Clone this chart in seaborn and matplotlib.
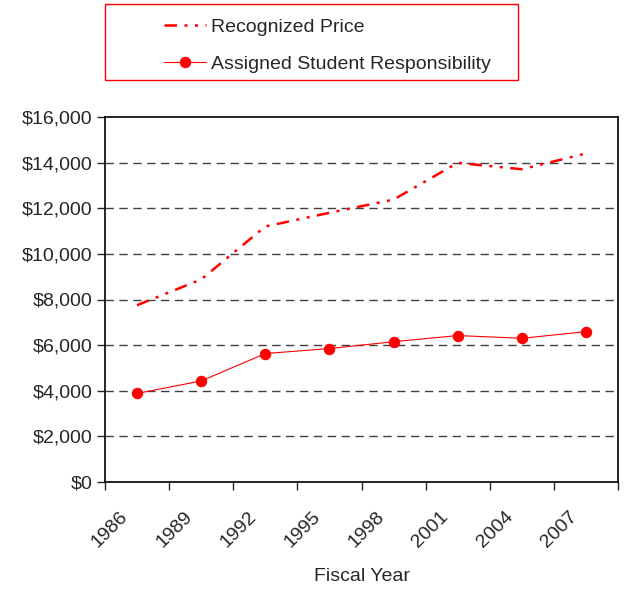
import numpy as np
import pandas as pd
import matplotlib
matplotlib.use("Agg")
import matplotlib.pyplot as plt
import matplotlib.ticker as mticker
import matplotlib.transforms as mtransforms
from matplotlib.patches import Rectangle
import seaborn as sns

# data
years = [1986, 1989, 1992, 1995, 1998, 2001, 2004, 2007]
recognized_price = [7750, 8880, 11200, 11800, 12380, 13990, 13710, 14400]
assigned_student = [3880, 4430, 5630, 5850, 6150, 6420, 6300, 6590]

sns.set_theme(style="white")
plt.rcParams['font.family'] = ['Liberation Sans', 'DejaVu Sans']

df = pd.DataFrame({
    'pos': np.arange(len(years)) + 0.5,
    'Recognized Price': recognized_price,
    'Assigned Student Responsibility': assigned_student,
})

fig = plt.figure(figsize=(6.25, 5.9), dpi=100)
ax = fig.add_axes([105 / 625, 1 - 482 / 590, 513 / 625, 365 / 590])

sns.lineplot(data=df, x='pos', y='Recognized Price', ax=ax, color='red',
             linewidth=1.8, label='Recognized Price')
ax.lines[-1].set_linestyle((0, (5, 3, 1.2, 3, 1.2, 3)))
sns.lineplot(data=df, x='pos', y='Assigned Student Responsibility', ax=ax,
             color='red', linewidth=0.8, marker='o', markersize=7.5,
             markeredgecolor='red', label='Assigned Student Responsibility')

ax.set_xlim(0, len(years))
ax.set_ylim(0, 16000)
ax.set_xticks(np.arange(len(years) + 1))
ax.set_xticklabels([str(y) for y in years] + [''], rotation=45,
                   ha='center', va='top', fontsize=14)
ax.set_yticks(np.arange(0, 16001, 2000))
ax.yaxis.set_major_formatter(mticker.FuncFormatter(lambda v, p: f'${v:,.0f}'))
ax.tick_params(axis='y', labelsize=14, length=6, width=1, direction='out',
               left=True, pad=3)
ax.tick_params(axis='x', length=6, width=1, direction='out', bottom=True, pad=13)
shift = mtransforms.ScaledTranslation(5 / 100, 0, fig.dpi_scale_trans)
for t in ax.get_xticklabels():
    t.set_transform(t.get_transform() + shift)

for v in range(2000, 16000, 2000):
    ax.axhline(v, color='#404040', linewidth=1, linestyle=(0, (6, 4)), zorder=0)

for s in ax.spines.values():
    s.set_color('black')
    s.set_linewidth(1.2)

ax.set_ylabel('')
ax.set_xlabel('Fiscal Year', fontsize=14, labelpad=12)

leg = ax.legend(loc='upper left', bbox_to_anchor=(146 / 625, 1 - 1 / 590),
                bbox_transform=fig.transFigure, frameon=False, fontsize=14,
                handlelength=2.2, handletextpad=0.25, labelspacing=1.0)

fig.patches.append(Rectangle((105 / 625, 1 - 80 / 590), 413 / 625, 76 / 590,
                             transform=fig.transFigure, fill=False,
                             edgecolor='red', linewidth=1))

fig.savefig('out.png', dpi=100)
